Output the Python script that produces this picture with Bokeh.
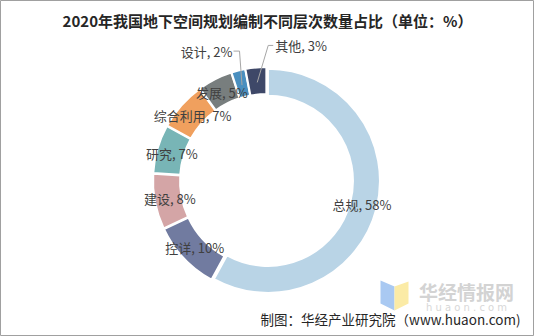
import math
from bokeh.plotting import figure
from bokeh.models import Range1d
from bokeh.embed import file_html
from bokeh.resources import INLINE
from bokeh.core.properties import value

# ---------------- data ----------------
title_text = "2020年我国地下空间规划编制不同层次数量占比（单位：%）"
categories = ["总规", "控详", "建设", "研究", "综合利用", "发展", "设计", "其他"]
shares = [58, 10, 8, 7, 7, 5, 2, 3]
source_note = "制图：华经产业研究院（www.huaon.com)"
watermark_cn = "华经情报网"
watermark_en = "h u a o n . c o m"

# ---------------- style ----------------
colors = ["#B9D4E6", "#717BA0", "#D4A5A6", "#78B5B6", "#F0A05E", "#787E7E", "#4A8FBF", "#3E4868"]
W, H = 534, 336
CX, CY = 266, 180          # ring centre (screen px, y down)
R_OUT, R_IN = 112, 85
EXPLODE = 1.5
FONT = "Noto Sans CJK SC"
# callout labels: offset of the elbow from the ring-middle anchor
callouts = {"设计": (-2.5, -34, "right"), "其他": (11, -37, "left")}


def Y(sy):
    return H - sy


p = figure(width=W, height=H, x_range=Range1d(0, W), y_range=Range1d(0, H),
           output_backend="svg", toolbar_location=None, min_border=0)
p.axis.visible = False
p.grid.visible = False
p.outline_line_color = "#a0a0a0"
p.outline_line_width = 1
p.background_fill_color = "white"
p.border_fill_color = "white"

# ---------------- watermark (decoration) ----------------
p.patch([380, 394, 394, 380], [Y(280), Y(286), Y(310), Y(303)], color="#A9C9F2", line_width=0)
p.patch([394, 408, 408, 394], [Y(286), Y(281), Y(303), Y(310)], color="#FBEBA6", line_width=0)
p.text(x=[466], y=[Y(291)], text=[watermark_cn], text_font=value(FONT), text_font_size="19px",
       text_font_style="bold", text_color="#D3D3D3", text_align="center", text_baseline="middle")
p.text(x=[466], y=[Y(307)], text=[watermark_en], text_font=value("DejaVu Sans"), text_font_size="10px",
       text_color="#D8D8D8", text_align="center", text_baseline="middle")

# ---------------- ring ----------------
total = float(sum(shares))
cum = 0.0
mids = []
for cat, v, c in zip(categories, shares, colors):
    f0 = cum / total
    f1 = (cum + v) / total
    cum += v
    fm = (f0 + f1) / 2
    th = 2 * math.pi * fm                 # clockwise from top
    ux, uy = math.sin(th), math.cos(th)   # data-space direction (y up)
    mids.append((cat, v, ux, uy))
    a0 = math.pi / 2 - 2 * math.pi * f0
    a1 = math.pi / 2 - 2 * math.pi * f1
    p.annular_wedge(x=[CX + EXPLODE * ux], y=[Y(CY) + EXPLODE * uy],
                    inner_radius=R_IN, outer_radius=R_OUT,
                    start_angle=a0, end_angle=a1, direction="clock",
                    fill_color=c, line_color="white", line_width=2)

# ---------------- labels ----------------
r_lab = (R_IN + R_OUT) / 2
for cat, v, ux, uy in mids:
    ax = CX + r_lab * ux
    ay = Y(CY) + r_lab * uy
    label = f"{cat}, {v}%"
    if cat in callouts:
        dx, dy, side = callouts[cat]
        ex, ey = ax + dx, ay - dy
        if side == "right":
            lx = ex - 7
            p.line([ax, ex, lx + 1], [ay, ey, ey], line_color="#A6A6A6", line_width=1)
            p.text(x=[lx], y=[ey], text=[label], text_font=value(FONT), text_font_size="13px",
                   text_color="#404040", text_align="right", text_baseline="middle")
        else:
            lx = ex + 7
            p.line([ax, ex, lx - 2], [ay, ey, ey], line_color="#A6A6A6", line_width=1)
            p.text(x=[lx], y=[ey], text=[label], text_font=value(FONT), text_font_size="13px",
                   text_color="#404040", text_align="left", text_baseline="middle")
    else:
        p.text(x=[ax], y=[ay], text=[label], text_font=value(FONT), text_font_size="13px",
               text_color="#404040", text_align="center", text_baseline="middle")

# ---------------- title & source ----------------
p.text(x=[W / 2], y=[Y(20)], text=[title_text], text_font=value(FONT), text_font_size="15px",
       text_font_style="bold", text_color="#262626", text_align="center", text_baseline="middle")
p.text(x=[520], y=[Y(318)], text=[source_note], text_font=value(FONT), text_font_size="13.5px",
       text_color="#262626", text_align="right", text_baseline="middle")

open("out.html", "w").write(file_html(p, INLINE))
